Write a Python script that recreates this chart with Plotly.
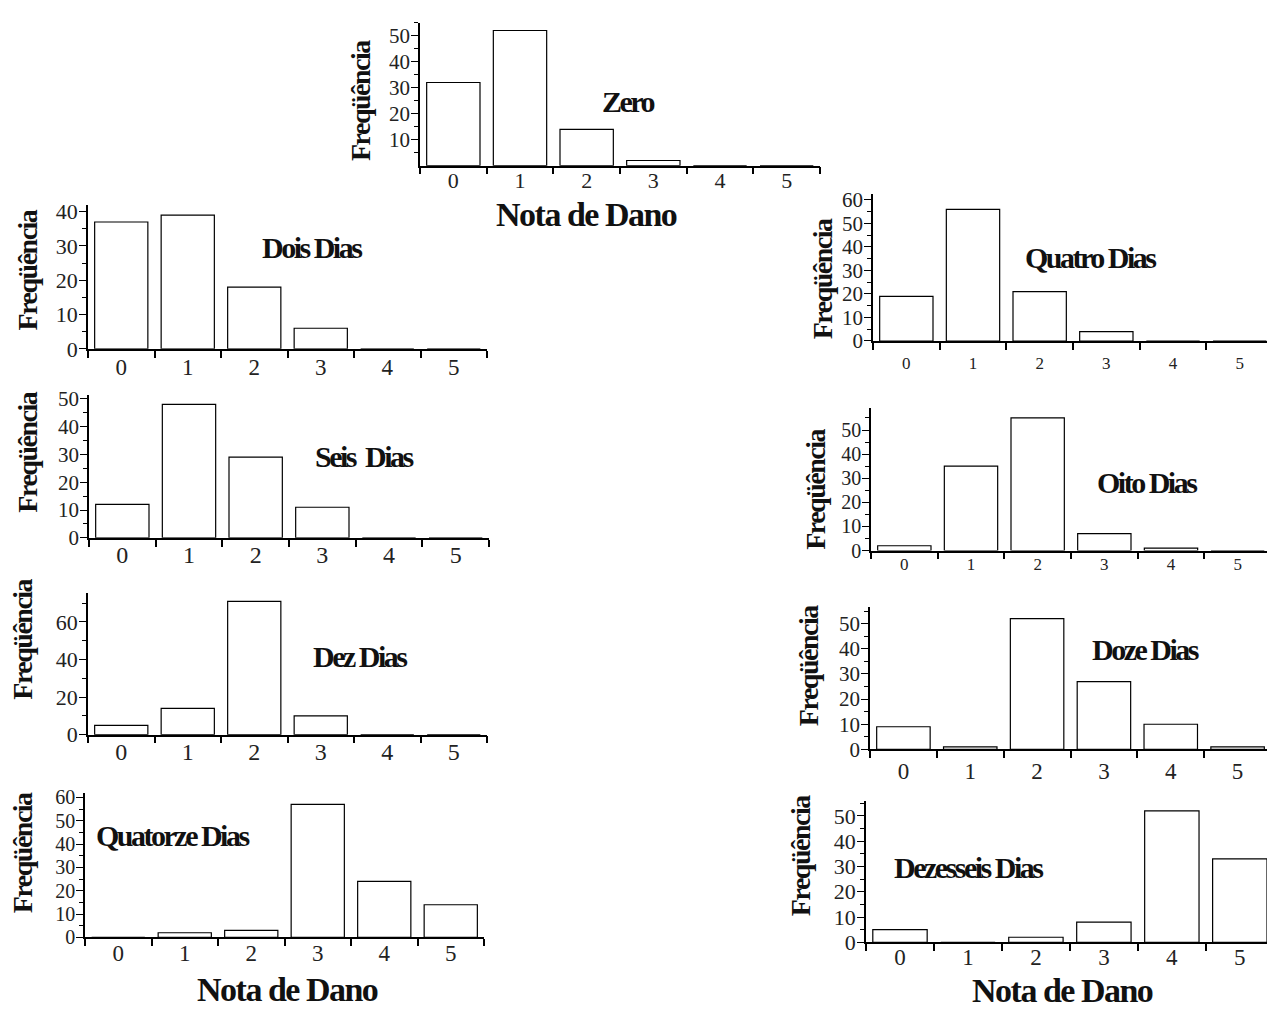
import plotly.graph_objects as go

# ---------------- data ----------------
categories = [0, 1, 2, 3, 4, 5]
tick_labels = ["0", "1", "2", "3", "4", "5"]
zero = [32, 52, 14, 2, 0, 0]
dois_dias = [37, 39, 18, 6, 0, 0]
quatro_dias = [19, 56, 21, 4, 0, 0]
seis_dias = [12, 48, 29, 11, 0, 0]
oito_dias = [2, 35, 55, 7, 1, 0]
dez_dias = [5, 14, 71, 10, 0, 0]
doze_dias = [9, 1, 52, 27, 10, 1]
quatorze_dias = [0, 2, 3, 57, 24, 14]
dezesseis_dias = [5, 0, 2, 8, 52, 33]
panel_titles = ["Zero", "Dois Dias", "Quatro Dias", "Seis  Dias", "Oito Dias",
                "Dez Dias", "Doze Dias", "Quatorze Dias", "Dezesseis Dias"]
y_title = "Freqüência"
x_title = "Nota de Dano"

W, H = 1267, 1018
FONT = "Liberation Serif"

# pixel geometry of each panel
panels = [
    dict(vals=zero, x0=420, x1=820, yt=15, yb=161, ymax=55, step=10, xend=5.5, show0=False, xf=22, yf=21, so=-6,
         title=(628, 95), ytitle=(360, 95)),
    dict(vals=dois_dias, x0=88, x1=487, yt=201, yb=348, ymax=42, step=10, xend=5.5, show0=True, xf=23, yf=22, so=-3,
         title=(312, 245), ytitle=(27, 268)),
    dict(vals=quatro_dias, x0=873, x1=1267, yt=190, yb=340, ymax=62.5, step=10, xend=5.41, show0=True, xf=17, yf=21, so=6,
         title=(1090, 255), ytitle=(822, 277)),
    dict(vals=seis_dias, x0=89, x1=489, yt=395, yb=541, ymax=51.4, step=10, xend=5.5, show0=True, xf=24, yf=21, so=-5,
         title=(364, 458), ytitle=(28, 454)),
    dict(vals=oito_dias, x0=871, x1=1267, yt=408, yb=554, ymax=59.3, step=10, xend=5.44, show0=True, xf=17, yf=20, so=-3,
         title=(1147, 485), ytitle=(816, 492)),
    dict(vals=dez_dias, x0=88, x1=487, yt=597, yb=742, ymax=75.6, step=20, xend=5.5, show0=True, xf=24, yf=22, so=-5,
         title=(360, 662), ytitle=(23, 645)),
    dict(vals=doze_dias, x0=870, x1=1267, yt=612, yb=757, ymax=56.5, step=10, xend=5.44, show0=True, xf=23, yf=21, so=0,
         title=(1145, 655), ytitle=(808, 672)),
    dict(vals=quatorze_dias, x0=85, x1=484, yt=802, yb=949, ymax=61.7, step=10, xend=5.5, show0=True, xf=23, yf=20, so=-6,
         title=(172, 845), ytitle=(22, 863)),
    dict(vals=dezesseis_dias, x0=866, x1=1267, yt=810, yb=954, ymax=55.8, step=10, xend=5.4, show0=True, xf=23, yf=22, so=-7,
         title=(968, 878), ytitle=(800, 866)),
]
x_titles = [(586, 211), (287, 1002), (1062, 1003)]

fig = go.Figure()
annotations = []
layout = {}
boundaries = [c - 0.5 for c in categories] + [categories[-1] + 0.5]

for i, p in enumerate(panels, start=1):
    xa = "x" if i == 1 else f"x{i}"
    ya = "y" if i == 1 else f"y{i}"
    fig.add_trace(go.Bar(
        x=categories, y=p["vals"], width=0.8,
        marker=dict(color="white", line=dict(color="black", width=1.2)),
        xaxis=xa, yaxis=ya, showlegend=False, hoverinfo="x+y",
    ))
    step = p["step"]
    majors = [v for v in range(0, int(p["ymax"]) + 1, step)]
    if not p["show0"]:
        majors = [v for v in majors if v != 0]
    minors = [v + step / 2 for v in range(0, int(p["ymax"]) + 1, step) if v + step / 2 <= p["ymax"]]
    layout[f"xaxis{'' if i == 1 else i}"] = dict(
        domain=[p["x0"] / W, p["x1"] / W], range=[-0.5, p["xend"]], anchor=ya,
        showline=True, linecolor="black", linewidth=1.5, showgrid=False, zeroline=False,
        tickmode="array", tickvals=categories, ticktext=tick_labels, ticks="",
        ticklabelstandoff=p["so"],
        tickfont=dict(family=FONT, size=p["xf"], color="#222"),
        minor=dict(tickmode="array", tickvals=boundaries, ticks="outside", ticklen=7,
                   tickwidth=1.5, tickcolor="black", showgrid=False),
        fixedrange=True,
    )
    layout[f"yaxis{'' if i == 1 else i}"] = dict(
        domain=[1 - p["yb"] / H, 1 - p["yt"] / H], range=[0, p["ymax"]], anchor=xa,
        showline=True, linecolor="black", linewidth=1.5, showgrid=False, zeroline=False,
        tickmode="array", tickvals=majors, ticktext=[str(v) for v in majors],
        ticks="outside", ticklen=7, tickwidth=1.2, tickcolor="black",
        ticklabelstandoff=-3,
        tickfont=dict(family=FONT, size=p["yf"], color="#222"),
        minor=dict(tickmode="array", tickvals=minors, ticks="outside", ticklen=4,
                   tickwidth=1.2, tickcolor="black", showgrid=False),
        fixedrange=True,
    )
    tx, ty = p["title"]
    annotations.append(dict(
        text=f'<span style="letter-spacing:-2.5px">{panel_titles[i-1]}</span>',
        x=tx / W, y=1 - ty / H, xref="paper", yref="paper", showarrow=False,
        xanchor="center", yanchor="middle",
        font=dict(family=FONT, size=30, color="#111", weight="bold"),
    ))
    yx, yy = p["ytitle"]
    annotations.append(dict(
        text=f'<span style="letter-spacing:-1.5px">{y_title}</span>',
        x=yx / W, y=1 - yy / H, xref="paper", yref="paper", showarrow=False,
        xanchor="center", yanchor="middle", textangle=-90,
        font=dict(family=FONT, size=28, color="#111", weight="bold"),
    ))

for (tx, ty) in x_titles:
    annotations.append(dict(
        text=f'<span style="letter-spacing:-1.5px">{x_title}</span>',
        x=tx / W, y=1 - ty / H, xref="paper", yref="paper", showarrow=False,
        xanchor="center", yanchor="middle",
        font=dict(family=FONT, size=34, color="#111", weight="bold"),
    ))

fig.update_layout(
    width=W, height=H, margin=dict(l=0, r=0, t=0, b=0),
    paper_bgcolor="white", plot_bgcolor="white",
    annotations=annotations, bargap=0.2,
    **layout,
)
fig.write_html("out.html", config={"displayModeBar": False},
               post_script="document.body.style.margin='0';document.body.style.overflow='hidden';")
